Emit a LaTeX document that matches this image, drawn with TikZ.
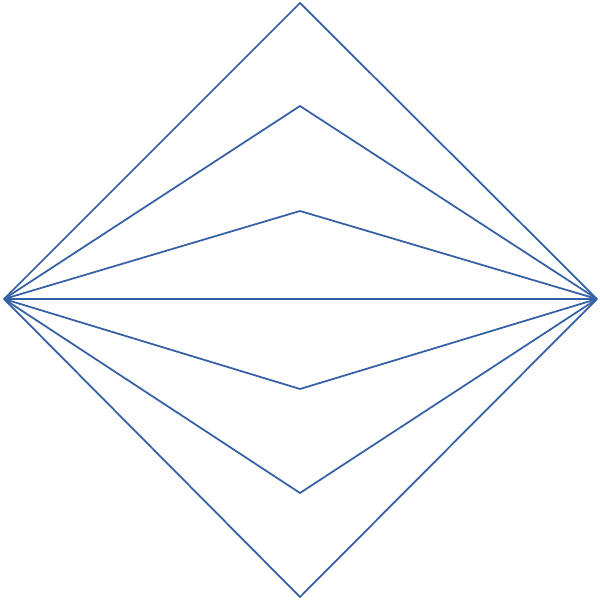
\documentclass[tikz,border=0pt]{standalone}
\usetikzlibrary{positioning}
\definecolor{lineblue}{RGB}{52,96,166}

\begin{document}
\begin{tikzpicture}[
  edge/.style = {draw=lineblue, line width=0.5pt, line join=miter},
  ]
  \useasboundingbox (0,0) rectangle (6,6);
  % end points
  \coordinate (left)  at (0.04,3.01);
  \coordinate (right) at (5.97,3.01);
  % apex points
  \coordinate (top)    at (3.00,5.97);
  \coordinate (upper)  at (3.00,4.94);
  \coordinate (inner)  at (3.00,3.89);
  \coordinate (lower)  at (3.00,2.11);
  \coordinate (deeper) at (3.00,1.07);
  \coordinate (bottom) at (3.00,0.03);
  % polylines
  \foreach \apex in {top,upper,inner,lower,deeper,bottom}
    \draw[edge] (left) -- (\apex) -- (right);
  \draw[edge] (left) -- (right);
\end{tikzpicture}
\end{document}
